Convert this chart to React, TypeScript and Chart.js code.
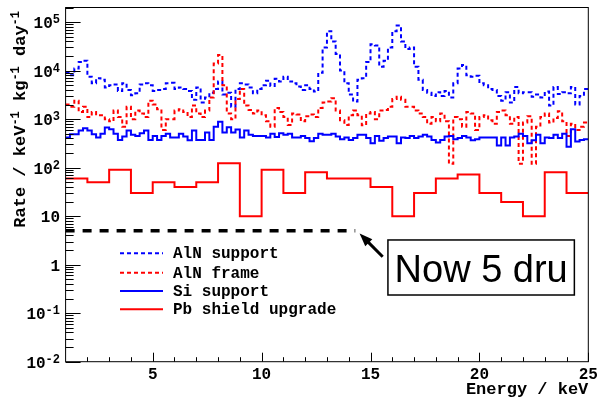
import { useEffect, useRef } from "react";
import { Chart, registerables } from "chart.js";

Chart.register(...registerables);

// Energy axis (keV) and rate axis (counts / keV / kg / day)
const E_MIN = 1;
const E_MAX = 25;
const FINE_BIN = 0.2;
const COARSE_BIN = 1;
const RATE_MIN = 0.01;
const RATE_MAX = 2e5;

// Simulated background contributions, 0.2 keV bins from 1 keV
const alnSupport = [
  9000, 8000, 11000, 15000, 16000, 7500, 5500, 7000, 6500, 4500, 5000, 5200,
  3800, 5500, 4000, 3100, 3400, 5200, 5500, 5000, 3800, 4000, 4200, 5500,
  5600, 4200, 4500, 4200, 3800, 2500, 4500, 2200, 2800, 3500, 4200, 6000,
  3200, 3500, 1800, 4200, 5500, 5200, 4500, 3400, 4200, 5000, 6200, 4800,
  6800, 6000, 7500, 6000, 5500, 4700, 4000, 5000, 4200, 3700, 9000, 30000,
  65000, 40000, 22000, 10000, 5500, 3200, 2300, 6500, 7000, 15000, 35000, 33000,
  12000, 16000, 30000, 65000, 85000, 40000, 28000, 30000, 12000, 6500, 4000, 3500,
  3000, 3600, 3000, 3800, 2800, 5500, 11000, 13000, 8000, 7500, 7800, 5500,
  5000, 4200, 4000, 3000, 2400, 3600, 2200, 4600, 3400, 3600, 3600, 2900,
  3200, 2800, 3700, 1900, 4600, 3300, 3600, 3400, 4600, 2000, 3000, 4200,
];

const alnFrame = [
  2000, 1800, 2400, 1400, 1800, 1100, 1400, 1200, 1200, 1000, 900, 1500,
  1100, 700, 1800, 1000, 1500, 1300, 1100, 2400, 2000, 1600, 600, 1000,
  1000, 1500, 1600, 1400, 1100, 1900, 1300, 1100, 1500, 2800, 14000, 21000,
  5000, 1300, 1000, 2600, 4200, 1900, 1550, 1300, 1500, 1200, 900, 700,
  1700, 1400, 1100, 760, 1300, 1250, 900, 1150, 1250, 1100, 1700, 2200,
  2300, 2700, 1500, 950, 760, 1200, 1500, 1200, 750, 1300, 1400, 1000,
  1500, 1550, 1800, 2600, 2900, 2500, 1800, 1800, 1500, 1300, 1100, 800,
  1100, 900, 1300, 900, 120, 1100, 1000, 700, 1400, 1300, 600, 1100,
  1200, 950, 800, 1400, 1500, 1200, 800, 1100, 120, 850, 1150, 120,
  700, 1100, 1300, 850, 1050, 1450, 900, 450, 800, 600, 700, 850,
];

const siSupport = [
  416, 490, 490, 580, 650, 580, 490, 416, 500, 670, 620, 500,
  373, 436, 580, 475, 450, 512, 580, 373, 450, 373, 450, 500,
  420, 420, 500, 436, 365, 580, 373, 373, 530, 373, 700, 880,
  530, 680, 530, 610, 420, 580, 475, 450, 450, 450, 420, 500,
  430, 512, 475, 500, 416, 416, 450, 410, 350, 410, 500, 475,
  475, 500, 436, 385, 420, 373, 410, 475, 475, 410, 318, 450,
  360, 410, 436, 436, 318, 416, 410, 450, 410, 436, 475, 436,
  373, 330, 373, 436, 450, 385, 410, 450, 416, 365, 385, 420,
  420, 420, 420, 285, 420, 285, 420, 436, 500, 450, 318, 365,
  475, 318, 420, 410, 475, 410, 500, 271, 620, 345, 373, 385,
];

// Projected spectrum with the Pb shield upgrade, 1 keV bins
const pbShield = [
  60, 50, 90, 30, 50, 40, 50, 123, 10, 90, 30, 80,
  60, 60, 40, 10, 30, 60, 72, 30, 19.5, 10, 80, 30,
];

// Target level marker
const targetRate = 5;
const targetEnd = 14.3;
const arrowTip = { x: 14.5, y: 4.4 };
const arrowTail = { x: 15.56, y: 1.46 };
const noteText = "Now 5 dru";

const xTickLabels = [5, 10, 15, 20, 25];
const yDecades = [-2, -1, 0, 1, 2, 3, 4, 5];

const BLUE = "#0000ff";
const RED = "#ff0000";

const legendItems = [
  { label: "AlN support", color: BLUE, dashed: true },
  { label: "AlN frame", color: RED, dashed: true },
  { label: "Si support", color: BLUE, dashed: false },
  { label: "Pb shield upgrade", color: RED, dashed: false },
];

const MONO = "'Liberation Mono', 'DejaVu Sans Mono', monospace";

// Turn bin contents into a step outline: one point at each bin edge
function histPoints(values: number[], start: number, width: number) {
  const pts: { x: number; y: number }[] = [];
  values.forEach((v, i) => {
    pts.push({ x: start + i * width, y: v });
    pts.push({ x: start + (i + 1) * width, y: v });
  });
  return pts;
}

function drawSupText(
  ctx: CanvasRenderingContext2D,
  parts: { t: string; sup?: boolean }[],
  x: number,
  y: number,
  baseSize: number,
  supSize: number,
  raise: number
) {
  let cx = x;
  for (const p of parts) {
    ctx.font = `bold ${p.sup ? supSize : baseSize}px ${MONO}`;
    ctx.fillText(p.t, cx, p.sup ? y - raise : y);
    cx += ctx.measureText(p.t).width;
  }
  return cx - x;
}

function measureSupText(
  ctx: CanvasRenderingContext2D,
  parts: { t: string; sup?: boolean }[],
  baseSize: number,
  supSize: number
) {
  let w = 0;
  for (const p of parts) {
    ctx.font = `bold ${p.sup ? supSize : baseSize}px ${MONO}`;
    w += ctx.measureText(p.t).width;
  }
  return w;
}

const rootStyle = {
  id: "rootStyle",
  afterDraw(chart: any) {
    const { ctx, chartArea: a, scales } = chart;
    const xs = scales.x;
    const ys = scales.y;
    ctx.save();
    ctx.strokeStyle = "#000";
    ctx.fillStyle = "#000";
    ctx.lineWidth = 1;
    ctx.setLineDash([]);

    // frame
    ctx.strokeRect(a.left, a.top, a.right - a.left, a.bottom - a.top);

    // x ticks, inside the frame
    for (let v = Math.ceil(E_MIN) + 1; v <= E_MAX; v++) {
      const px = Math.round(xs.getPixelForValue(v)) + 0.5;
      const len = v % 5 === 0 ? 9 : 4.5;
      ctx.beginPath();
      ctx.moveTo(px, a.bottom);
      ctx.lineTo(px, a.bottom - len);
      ctx.stroke();
    }

    // y ticks, decades plus 2..9 minors
    for (const e of yDecades) {
      for (let k = 1; k <= 9; k++) {
        const v = k * Math.pow(10, e);
        if (v < RATE_MIN || v > RATE_MAX) continue;
        const py = Math.round(ys.getPixelForValue(v)) + 0.5;
        const len = k === 1 ? 15 : 8;
        ctx.beginPath();
        ctx.moveTo(a.left, py);
        ctx.lineTo(a.left + len, py);
        ctx.stroke();
      }
    }

    // x tick labels
    ctx.font = `bold 16px ${MONO}`;
    ctx.textAlign = "center";
    ctx.textBaseline = "alphabetic";
    for (const v of xTickLabels) {
      ctx.fillText(String(v), xs.getPixelForValue(v), 379);
    }

    // y tick labels
    ctx.textAlign = "left";
    const labelRight = 60;
    for (const e of yDecades) {
      const py = ys.getPixelForValue(Math.pow(10, e));
      const parts =
        e === 0
          ? [{ t: "1" }]
          : e === 1
          ? [{ t: "10" }]
          : [{ t: "10" }, { t: String(e), sup: true }];
      const w = measureSupText(ctx, parts, 16, 12);
      drawSupText(ctx, parts, labelRight - w, py + 6, 16, 12, 5);
    }

    // axis titles
    ctx.font = `bold 17px ${MONO}`;
    ctx.textAlign = "right";
    ctx.fillText("Energy / keV", a.right, 394);

    const yTitle = [
      { t: "Rate / keV" },
      { t: "-1", sup: true },
      { t: " kg" },
      { t: "-1", sup: true },
      { t: " day" },
      { t: "-1", sup: true },
    ];
    ctx.textAlign = "left";
    const tw = measureSupText(ctx, yTitle, 17, 12);
    ctx.save();
    ctx.translate(25, 11 + tw);
    ctx.rotate(-Math.PI / 2);
    drawSupText(ctx, yTitle, 0, 0, 17, 12, 6);
    ctx.restore();

    // legend
    ctx.font = `bold 16px ${MONO}`;
    ctx.textBaseline = "middle";
    const rows = [253.3, 272.7, 291, 309.3];
    legendItems.forEach((it, i) => {
      ctx.strokeStyle = it.color;
      ctx.lineWidth = 2;
      ctx.setLineDash(it.dashed ? [4, 3] : []);
      ctx.beginPath();
      ctx.moveTo(120, rows[i]);
      ctx.lineTo(163, rows[i]);
      ctx.stroke();
      ctx.setLineDash([]);
      ctx.fillStyle = "#000";
      ctx.fillText(it.label, 173, rows[i] + 1);
    });

    // arrow pointing at the target line
    const tx = xs.getPixelForValue(arrowTip.x);
    const ty = ys.getPixelForValue(arrowTip.y);
    const sx = xs.getPixelForValue(arrowTail.x);
    const sy = ys.getPixelForValue(arrowTail.y);
    const ang = Math.atan2(ty - sy, tx - sx);
    const head = 13;
    const half = 5;
    ctx.strokeStyle = "#000";
    ctx.lineWidth = 3;
    ctx.beginPath();
    ctx.moveTo(sx, sy);
    ctx.lineTo(tx - head * 0.8 * Math.cos(ang), ty - head * 0.8 * Math.sin(ang));
    ctx.stroke();
    ctx.beginPath();
    ctx.moveTo(tx, ty);
    ctx.lineTo(
      tx - head * Math.cos(ang) + half * Math.sin(ang),
      ty - head * Math.sin(ang) - half * Math.cos(ang)
    );
    ctx.lineTo(
      tx - head * Math.cos(ang) - half * Math.sin(ang),
      ty - head * Math.sin(ang) + half * Math.cos(ang)
    );
    ctx.closePath();
    ctx.fill();

    // note box
    const bx0 = xs.getPixelForValue(15.8);
    const bx1 = xs.getPixelForValue(24.36);
    const by0 = ys.getPixelForValue(3.23);
    const by1 = ys.getPixelForValue(0.237);
    ctx.fillStyle = "#fff";
    ctx.fillRect(bx0, by0, bx1 - bx0, by1 - by0);
    ctx.lineWidth = 1.5;
    ctx.strokeRect(bx0, by0, bx1 - bx0, by1 - by0);
    ctx.fillStyle = "#000";
    ctx.font = "38px 'Liberation Sans', Arial, sans-serif";
    ctx.textAlign = "center";
    ctx.textBaseline = "alphabetic";
    ctx.fillText(noteText, (bx0 + bx1) / 2, by0 + 41.7);

    ctx.restore();
  },
};

export default function App() {
  const canvasRef = useRef<HTMLCanvasElement | null>(null);

  useEffect(() => {
    document.body.style.margin = "0";
    const canvas = canvasRef.current;
    if (!canvas) return;

    const line = (label: string, data: any[], color: string, dashed: boolean, width = 2) => ({
      label,
      data,
      borderColor: color,
      backgroundColor: color,
      borderWidth: width,
      borderDash: dashed ? [4, 3] : [],
      pointRadius: 0,
      tension: 0,
      fill: false,
    });

    const chart = new Chart(canvas, {
      type: "line",
      data: {
        datasets: [
          { ...line("target", [
            { x: E_MIN, y: targetRate },
            { x: targetEnd, y: targetRate },
          ], "#000", false, 3.5), borderDash: [9, 8] },
          line("Pb shield upgrade", histPoints(pbShield, E_MIN, COARSE_BIN), RED, false),
          line("Si support", histPoints(siSupport, E_MIN, FINE_BIN), BLUE, false),
          line("AlN frame", histPoints(alnFrame, E_MIN, FINE_BIN), RED, true),
          line("AlN support", histPoints(alnSupport, E_MIN, FINE_BIN), BLUE, true),
        ],
      },
      options: {
        animation: false,
        responsive: false,
        devicePixelRatio: 1,
        layout: { padding: { top: 7.5, right: 11.7, left: 0, bottom: 0 } },
        plugins: {
          legend: { display: false },
          tooltip: { enabled: false },
        },
        scales: {
          x: {
            type: "linear",
            min: E_MIN,
            max: E_MAX,
            grid: { display: false },
            border: { display: false },
            ticks: { display: false },
            afterFit: (s: any) => {
              s.height = 36.3;
            },
          },
          y: {
            type: "logarithmic",
            min: RATE_MIN,
            max: RATE_MAX,
            grid: { display: false },
            border: { display: false },
            ticks: { display: false },
            afterFit: (s: any) => {
              s.width = 65.6;
            },
          },
        },
      },
      plugins: [rootStyle],
    });

    return () => chart.destroy();
  }, []);

  return (
    <div style={{ position: "fixed", left: 0, top: 0, width: 600, height: 398, background: "#fff" }}>
      <canvas ref={canvasRef} width={600} height={398} />
    </div>
  );
}
